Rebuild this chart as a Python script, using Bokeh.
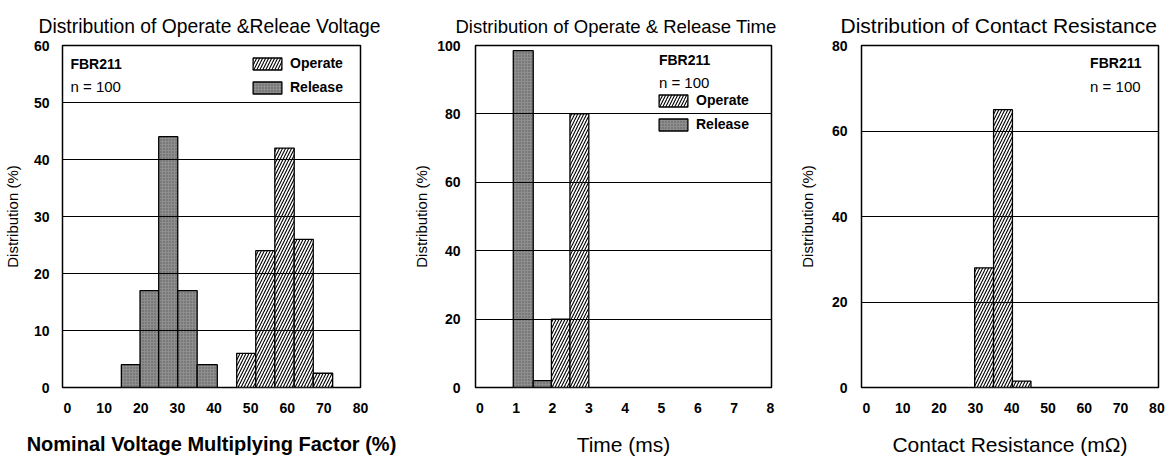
from bokeh.plotting import figure
from bokeh.layouts import row
from bokeh.models import Legend, LegendItem, Label, FixedTicker, Range1d
from bokeh.embed import file_html
from bokeh.resources import INLINE

FONT = "Liberation Sans"

# ---------------- Panel 1: Operate & Release Voltage ----------------
volt_release_left = [14.7, 19.8, 24.9, 30.1, 35.4]
volt_release_right = [19.8, 24.9, 30.1, 35.4, 40.9]
volt_release_pct = [4, 17, 44, 17, 4]
volt_operate_left = [46.2, 51.4, 56.6, 61.9, 67.1]
volt_operate_right = [51.4, 56.6, 61.9, 67.1, 72.4]
volt_operate_pct = [6, 24, 42, 26, 2.5]
volt_xticks = [0, 10, 20, 30, 40, 50, 60, 70, 80]
volt_yticks = [0, 10, 20, 30, 40, 50, 60]

# ---------------- Panel 2: Operate & Release Time ----------------
time_release_left = [0.92, 1.47]
time_release_right = [1.47, 1.97]
time_release_pct = [98.5, 2]
time_operate_left = [1.97, 2.48]
time_operate_right = [2.48, 3.0]
time_operate_pct = [20, 80]
time_xticks = [0, 1, 2, 3, 4, 5, 6, 7, 8]
time_yticks = [0, 20, 40, 60, 80, 100]

# ---------------- Panel 3: Contact Resistance ----------------
res_left = [29.8, 35.0, 40.2]
res_right = [35.0, 40.2, 45.3]
res_pct = [28, 65, 1.5]
res_xticks = [0, 10, 20, 30, 40, 50, 60, 70, 80]
res_yticks = [0, 20, 40, 60, 80]

FRAME_H = 342

HATCH = dict(fill_color="white", hatch_pattern="/", hatch_color="black",
             hatch_scale=6, hatch_weight=1.1, line_color="black", line_width=1.3)
GRAYFILL = dict(fill_color="#8e8e8e", hatch_pattern=".", hatch_color="#5a5a5a",
                hatch_scale=3, hatch_weight=0.8, line_color="black", line_width=1.3)


def make_fig(title, title_size, title_offset, xlabel, xlabel_size, xlabel_bold,
             xr, yr, xticks, yticks, fw, bl, br, ylab_standoff, ytick_standoff):
    p = figure(output_backend="svg", toolbar_location=None,
               frame_width=fw, frame_height=FRAME_H,
               min_border_left=bl, min_border_right=br,
               min_border_top=45, min_border_bottom=66,
               x_range=Range1d(*xr), y_range=Range1d(*yr),
               background_fill_color="white", border_fill_color="white")
    p.title.text = title
    p.title.align = "left"
    p.title.vertical_align = "top"
    p.title.text_font = FONT
    p.title.text_font_size = title_size
    p.title.text_font_style = "normal"
    p.title.text_color = "black"
    p.title.standoff = 13
    p.title.offset = title_offset
    p.outline_line_color = "black"
    p.outline_line_width = 1.5
    p.xgrid.visible = False
    p.ygrid.grid_line_color = "black"
    p.ygrid.grid_line_width = 1
    p.ygrid.level = "overlay"
    p.ygrid.ticker = FixedTicker(ticks=yticks)
    p.xaxis.ticker = FixedTicker(ticks=xticks)
    p.yaxis.ticker = FixedTicker(ticks=yticks)
    for ax in (p.xaxis[0], p.yaxis[0]):
        ax.axis_line_color = None
        ax.major_tick_line_color = None
        ax.minor_tick_line_color = None
        ax.major_label_text_font = FONT
        ax.major_label_text_font_size = "14px"
        ax.major_label_text_font_style = "bold"
        ax.major_label_text_color = "black"
        ax.axis_label_text_font = FONT
        ax.axis_label_text_color = "black"
    p.xaxis.axis_label = xlabel
    p.xaxis.axis_label_text_font_size = xlabel_size
    p.xaxis.axis_label_text_font_style = "bold" if xlabel_bold else "normal"
    p.xaxis.major_label_standoff = 9
    p.xaxis.axis_label_standoff = 17
    p.yaxis.axis_label = "Distribution (%)"
    p.yaxis.axis_label_text_font_size = "15px"
    p.yaxis.axis_label_text_font_style = "normal"
    p.yaxis.axis_label_standoff = ylab_standoff
    p.yaxis.major_label_standoff = ytick_standoff
    return p


def add_texts(p, x, y1, y2):
    p.add_layout(Label(x=x, y=y1, text="FBR211", text_font=FONT,
                       text_font_size="14px", text_font_style="bold",
                       text_baseline="middle", text_color="black"))
    p.add_layout(Label(x=x, y=y2, text="n = 100", text_font=FONT,
                       text_font_size="15px", text_font_style="normal",
                       text_baseline="middle", text_color="black"))


def add_legend(p, op_r, rel_r, loc):
    leg = Legend(items=[LegendItem(label="Operate", renderers=[op_r]),
                        LegendItem(label="Release", renderers=[rel_r])],
                 location=loc, padding=0, margin=0, spacing=8,
                 glyph_width=36, glyph_height=15, label_height=15,
                 label_standoff=5, border_line_color=None,
                 background_fill_alpha=0, label_text_font=FONT,
                 label_text_font_size="14px", label_text_font_style="bold",
                 label_text_color="black")
    p.add_layout(leg)


# Panel 1
p1 = make_fig("Distribution of Operate &Releae Voltage", "19.3px", -24,
              "Nominal Voltage Multiplying Factor (%)", "20px", True,
              (-1.37, 80), (0, 60), volt_xticks, volt_yticks,
              298, 54, 50, 10, 7)
r1 = p1.quad(left=volt_release_left, right=volt_release_right, bottom=0,
             top=volt_release_pct, **GRAYFILL)
o1 = p1.quad(left=volt_operate_left, right=volt_operate_right, bottom=0,
             top=volt_operate_pct, **HATCH)
add_texts(p1, 0.8, 56.8, 52.8)
add_legend(p1, o1, r1, (187, 292))

# Panel 2
p2 = make_fig("Distribution of Operate & Release Time", "18.5px", -20,
              "Time (ms)", "21px", False,
              (-0.12, 8.03), (0, 100), time_xticks, time_yticks,
              296, 62, 22, 4, 9)
r2 = p2.quad(left=time_release_left, right=time_release_right, bottom=0,
             top=time_release_pct, **GRAYFILL)
o2 = p2.quad(left=time_operate_left, right=time_operate_right, bottom=0,
             top=time_operate_pct, **HATCH)
add_texts(p2, 4.93, 95.9, 89.2)
add_legend(p2, o2, r2, (180, 255))

# Panel 3
p3 = make_fig("Distribution of Contact Resistance", "21px", -21,
              "Contact Resistance (mΩ)", "21px", False,
              (-1.38, 80.44), (0, 80), res_xticks, res_yticks,
              297, 68, 8, 13, 8)
p3.quad(left=res_left, right=res_right, bottom=0, top=res_pct, **HATCH)
add_texts(p3, 61.6, 75.8, 70.4)

layout = row(p1, p2, p3, spacing=0)
open("out.html", "w").write(file_html(layout, INLINE))
